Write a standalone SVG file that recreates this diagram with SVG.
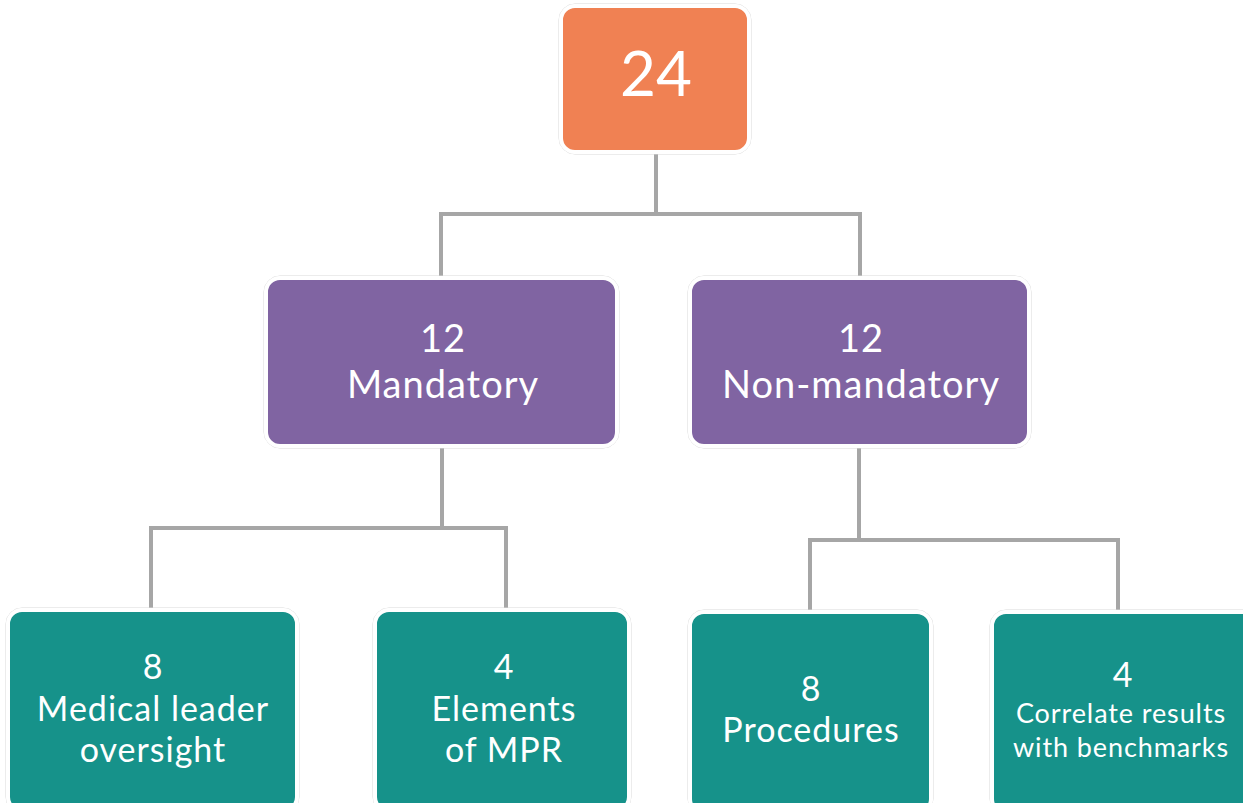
<svg xmlns="http://www.w3.org/2000/svg" width="1243" height="803" viewBox="0 0 1243 803">
<style>
.box{stroke:#ffffff;stroke-width:4}
.halo{fill:none;stroke:#d9d9d9;stroke-width:1}
.t{fill:#ffffff;font-family:Lato,"Open Sans","Liberation Sans",sans-serif;text-anchor:middle}
.m{font-size:38px;letter-spacing:1px}
.b{font-size:34px;letter-spacing:1px}
.s{font-size:27px;letter-spacing:0.9px}
.c{fill:none;stroke:#a6a6a6;stroke-width:4}
</style>
<rect width="1243" height="803" fill="#ffffff"/>
<g id="connectors">
<path class="c" d="M656 152V214M441 277V214H860V277"/>
<path class="c" d="M442 447V528M151 609V528H506V609"/>
<path class="c" d="M859 447V540M810 610V540H1118V610"/>
</g>
<g id="n24">
<rect class="halo" x="559" y="4" width="192" height="150" rx="16"/>
<rect class="box" x="561" y="6" width="188" height="146" rx="14" fill="#f08153"/>
<text class="t" x="656" y="96" font-size="62">24</text>
</g>
<g id="mandatory">
<rect class="halo" x="264" y="276" width="355" height="172" rx="16"/>
<rect class="box" x="266" y="278" width="351" height="168" rx="14" fill="#8064a2"/>
<text class="t m" x="443" y="352">12</text>
<text class="t m" x="443" y="398">Mandatory</text>
</g>
<g id="nonmandatory">
<rect class="halo" x="688" y="276" width="343" height="172" rx="16"/>
<rect class="box" x="690" y="278" width="339" height="168" rx="14" fill="#8064a2"/>
<text class="t m" x="861" y="352">12</text>
<text class="t m" x="861" y="398">Non-mandatory</text>
</g>
<g id="medical">
<rect class="halo" x="6" y="608" width="293" height="205" rx="16"/>
<rect class="box" x="8" y="610" width="289" height="201" rx="14" fill="#16928a"/>
<text class="t b" x="153" y="679">8</text>
<text class="t b" x="153" y="721">Medical leader</text>
<text class="t b" x="153" y="762">oversight</text>
</g>
<g id="elements">
<rect class="halo" x="373" y="608" width="258" height="205" rx="16"/>
<rect class="box" x="375" y="610" width="254" height="201" rx="14" fill="#16928a"/>
<text class="t b" x="504" y="679">4</text>
<text class="t b" x="504" y="721">Elements</text>
<text class="t b" x="504" y="762">of MPR</text>
</g>
<g id="procedures">
<rect class="halo" x="688" y="610" width="245" height="205" rx="16"/>
<rect class="box" x="690" y="612" width="241" height="201" rx="14" fill="#16928a"/>
<text class="t b" x="811" y="701">8</text>
<text class="t b" x="811" y="742">Procedures</text>
</g>
<g id="correlate">
<rect class="halo" x="990" y="610" width="270" height="205" rx="16"/>
<rect class="box" x="992" y="612" width="266" height="201" rx="14" fill="#16928a"/>
<text class="t b" x="1123" y="687">4</text>
<text class="t s" x="1121" y="723">Correlate results</text>
<text class="t s" x="1121" y="757">with benchmarks</text>
</g>
</svg>
